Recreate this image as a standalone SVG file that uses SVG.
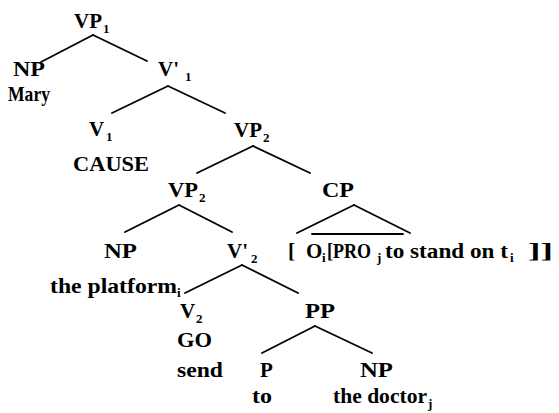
<svg xmlns="http://www.w3.org/2000/svg" width="559" height="413" viewBox="0 0 559 413">
<style>
text{font-family:"Liberation Serif","Times New Roman",serif;font-size:21px;font-weight:bold;fill:#000}
.s{font-size:13px}
.c line{stroke:#000;stroke-width:1.8;stroke-linecap:round}
</style>
<rect width="559" height="413" fill="#fff"/>
<g class="c" id="connectors">
<line x1="93" y1="35" x2="41" y2="62"/>
<line x1="93" y1="35" x2="147" y2="61"/>
<line x1="168" y1="86" x2="112" y2="113"/>
<line x1="168" y1="86" x2="225" y2="113"/>
<line x1="253" y1="146" x2="197" y2="173"/>
<line x1="253" y1="146" x2="310" y2="173"/>
<line x1="179" y1="205" x2="125" y2="232"/>
<line x1="179" y1="205" x2="232" y2="232"/>
<line x1="354" y1="205" x2="297" y2="233"/>
<line x1="354" y1="205" x2="410" y2="233"/>
<line x1="312" y1="234" x2="403" y2="234"/>
<line x1="242" y1="265" x2="185" y2="293"/>
<line x1="242" y1="265" x2="298" y2="293"/>
<line x1="315" y1="326" x2="262" y2="353"/>
<line x1="315" y1="326" x2="372" y2="353"/>
</g>
<g id="vp1"><text x="74" y="28" textLength="28" lengthAdjust="spacingAndGlyphs">VP</text><text class="s" x="103" y="33">1</text></g>
<g id="np1"><text x="13" y="76" textLength="32" lengthAdjust="spacingAndGlyphs">NP</text><text x="8" y="101" textLength="42" lengthAdjust="spacingAndGlyphs">Mary</text></g>
<g id="v1bar"><text x="158" y="76">V'</text><text class="s" x="185" y="81">1</text></g>
<g id="v1"><text x="89" y="136">V</text><text class="s" x="106" y="141">1</text><text x="73" y="171" textLength="76" lengthAdjust="spacingAndGlyphs">CAUSE</text></g>
<g id="vp2a"><text x="234" y="137" textLength="28" lengthAdjust="spacingAndGlyphs">VP</text><text class="s" x="263" y="142">2</text></g>
<g id="vp2b"><text x="168" y="197" textLength="30" lengthAdjust="spacingAndGlyphs">VP</text><text class="s" x="199" y="202">2</text></g>
<g id="cp"><text x="322" y="197" textLength="32" lengthAdjust="spacingAndGlyphs">CP</text>
<text x="288" y="258">[</text>
<text x="306" y="258">O</text><text class="s" x="322" y="262">i</text>
<text x="327" y="258" textLength="44" lengthAdjust="spacingAndGlyphs">[PRO</text><text class="s" x="377" y="262">j</text>
<text x="385" y="258" textLength="123" lengthAdjust="spacingAndGlyphs">to stand on t</text><text class="s" x="510" y="262">i</text>
<text x="528" y="258" textLength="25" lengthAdjust="spacingAndGlyphs">]]</text></g>
<g id="np2"><text x="104" y="258" textLength="33" lengthAdjust="spacingAndGlyphs">NP</text><text x="50" y="293" textLength="127" lengthAdjust="spacingAndGlyphs">the platform</text><text class="s" x="177" y="297">i</text></g>
<g id="v2bar"><text x="227" y="258">V'</text><text class="s" x="251" y="263">2</text></g>
<g id="v2"><text x="180" y="318">V</text><text class="s" x="196" y="323">2</text><text x="177" y="347" textLength="35" lengthAdjust="spacingAndGlyphs">GO</text><text x="177" y="377" textLength="46" lengthAdjust="spacingAndGlyphs">send</text></g>
<g id="pp"><text x="305" y="318" textLength="30" lengthAdjust="spacingAndGlyphs">PP</text></g>
<g id="p"><text x="260" y="377">P</text><text x="252" y="403" textLength="20" lengthAdjust="spacingAndGlyphs">to</text></g>
<g id="np3"><text x="360" y="377" textLength="33" lengthAdjust="spacingAndGlyphs">NP</text><text x="333" y="403" textLength="94" lengthAdjust="spacingAndGlyphs">the doctor</text><text class="s" x="428" y="408">j</text></g>
</svg>
